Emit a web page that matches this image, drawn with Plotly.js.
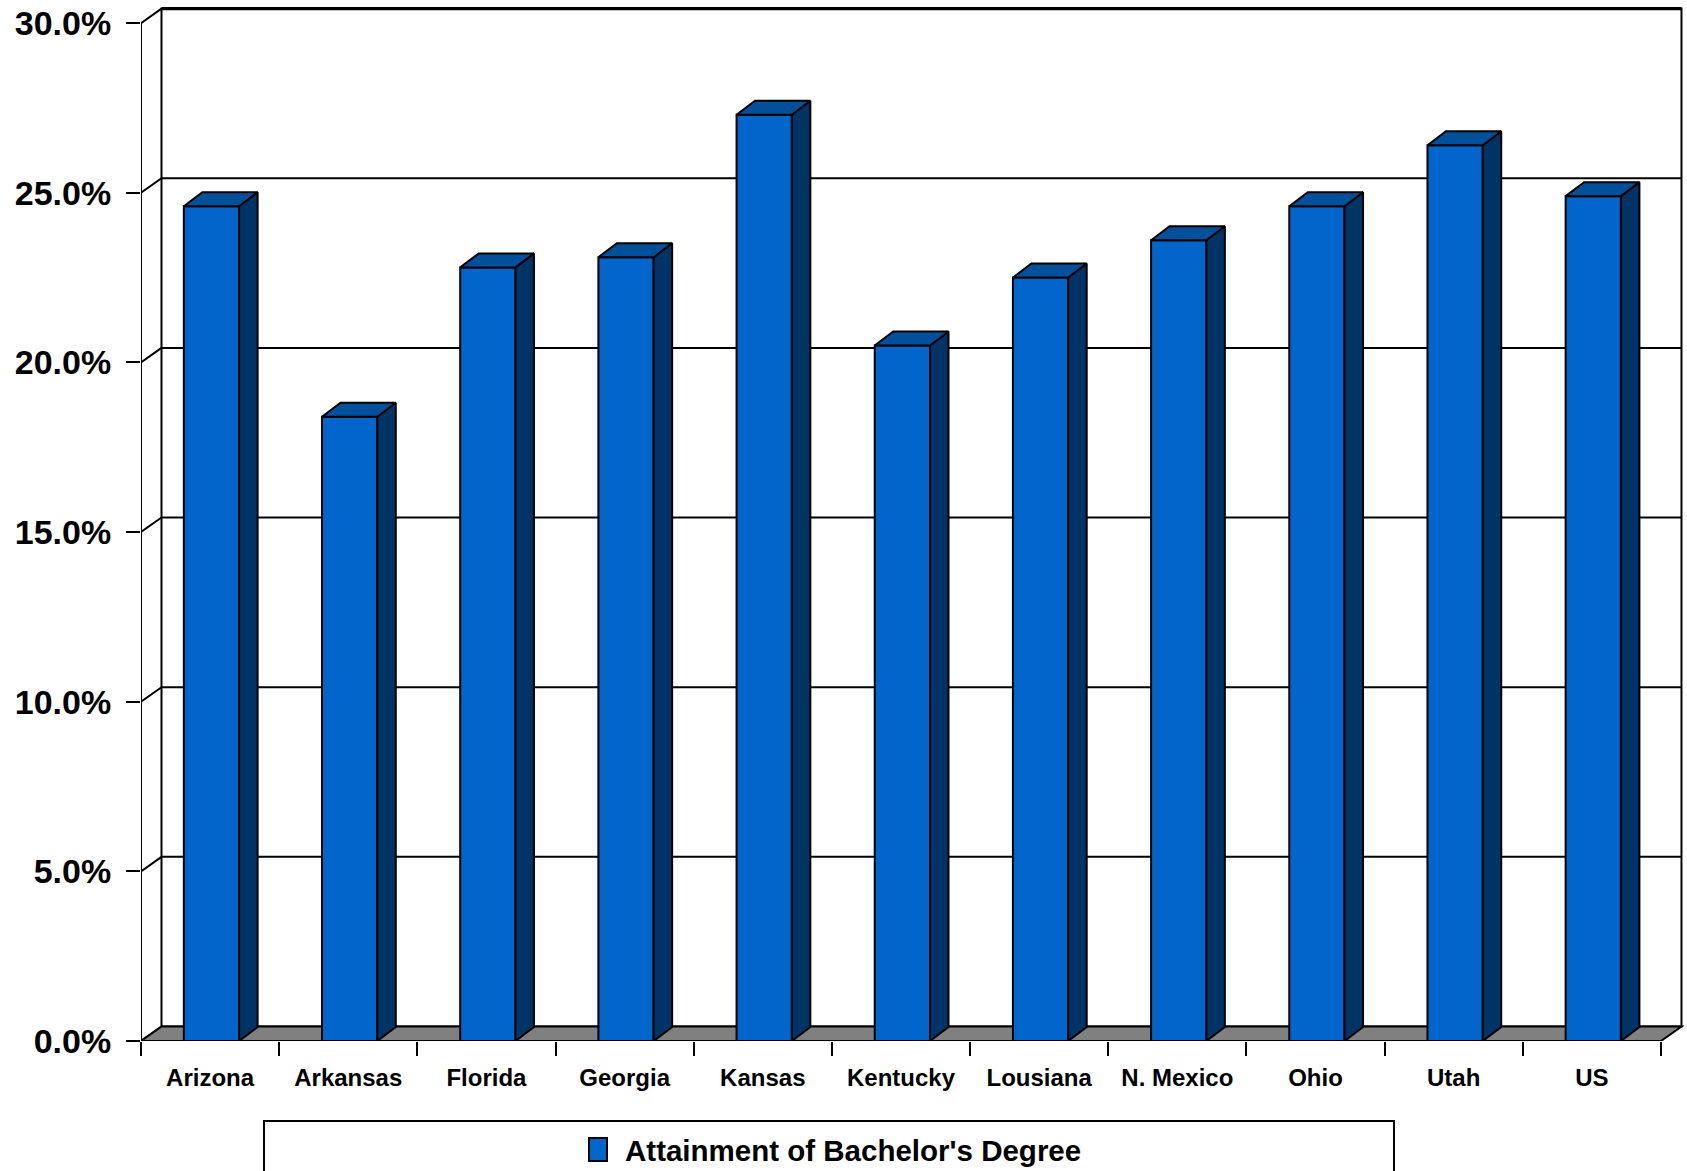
<!DOCTYPE html>
<html>
<head>
<meta charset="utf-8">
<script src="https://cdn.plot.ly/plotly-3.0.1.min.js"></script>
<style>
  html, body { margin: 0; padding: 0; background: #ffffff; }
  #chart { width: 1687px; height: 1171px; }
</style>
</head>
<body>
<div id="chart"></div>
<script>
// Share of adults holding a bachelor's degree, by state
const categories = ['Arizona', 'Arkansas', 'Florida', 'Georgia', 'Kansas', 'Kentucky',
                    'Lousiana', 'N. Mexico', 'Ohio', 'Utah', 'US'];
const bachelorShare = [0.246, 0.184, 0.228, 0.231, 0.273, 0.205, 0.225, 0.236, 0.246, 0.264, 0.249];
const seriesName = "Attainment of Bachelor's Degree";
const valueTicks = [0, 0.05, 0.10, 0.15, 0.20, 0.25, 0.30];

// ---- page geometry ----
const W = 1687, H = 1171;
const M = { l: 141, r: 3, t: 2, b: 130 };
const plotW = W - M.l - M.r;
const plotH = H - M.t - M.b;
const catPx = 138.18;              // pixels per category slot
const valPx = 3393;                // pixels per unit of value (100%)
const xMax = plotW / catPx;
const yMax = plotH / valPx;
const N = categories.length;
const vTop = valueTicks[valueTicks.length - 1];

// 3-D look: offsets of the back wall and of each column's depth, in data units
const wallDX = 20.5 / catPx, wallDY = 14.5 / valPx;
const barDX = 18.5 / catPx,  barDY = 14 / valPx;
const barW = 0.40;
const barShift = 0.01;

const FRONT = '#0066CC', TOP = '#00509B', SIDE = '#003366', FLOOR = '#808080';
const FONT = 'Liberation Sans, Arial, sans-serif';

const centers = categories.map((_, i) => i + 0.5 + barShift);

// ---- walls, floor and gridlines (drawn beneath the columns) ----
const shapes = [];
const ln = (x0, y0, x1, y1, w) => ({
  type: 'line', xref: 'x', yref: 'y', layer: 'below',
  x0, y0, x1, y1, line: { color: '#000', width: w || 2 }
});
// back wall
shapes.push({
  type: 'rect', xref: 'x', yref: 'y', layer: 'below',
  x0: wallDX, x1: N + wallDX, y0: wallDY, y1: vTop + wallDY,
  fillcolor: '#ffffff', line: { color: '#000', width: 2 }
});
// gridlines on the back wall and their returns on the left side wall
valueTicks.forEach(v => {
  if (v > 0 && v < vTop) shapes.push(ln(wallDX, v + wallDY, N + wallDX, v + wallDY, 2));
  shapes.push(ln(0, v, wallDX, v + wallDY, 2));
});
// heavier top edge of the back wall
shapes.push(ln(wallDX, vTop + wallDY, N + wallDX, vTop + wallDY, 3.2));
// floor
shapes.push({
  type: 'path', xref: 'x', yref: 'y', layer: 'below',
  path: `M0,0 L${N},0 L${N + wallDX},${wallDY} L${wallDX},${wallDY} Z`,
  fillcolor: FLOOR, line: { color: '#000', width: 2 }
});
// front value axis line
shapes.push(ln(0, 0, 0, vTop, 2));

// ---- legend (boxed, centred under the chart) ----
const pxX = px => (px - M.l) / plotW;
const pxY = py => (H - M.b - py) / plotH;
shapes.push({
  type: 'rect', xref: 'paper', yref: 'paper', layer: 'above',
  x0: pxX(264), x1: pxX(1394), y0: pxY(1190), y1: pxY(1121),
  fillcolor: 'rgba(0,0,0,0)', line: { color: '#000', width: 2 }
});
shapes.push({
  type: 'rect', xref: 'paper', yref: 'paper', layer: 'above',
  x0: pxX(589), x1: pxX(607), y0: pxY(1161), y1: pxY(1138),
  fillcolor: FRONT, line: { color: '#000', width: 2 }
});

// ---- column faces ----
const topX = [], topY = [], sideX = [], sideY = [];
bachelorShare.forEach((v, i) => {
  const xl = centers[i] - barW / 2, xr = centers[i] + barW / 2;
  topX.push(xl, xr, xr + barDX, xl + barDX, xl, null);
  topY.push(v, v, v + barDY, v + barDY, v, null);
  sideX.push(xr, xr + barDX, xr + barDX, xr, xr, null);
  sideY.push(0, barDY, v + barDY, v, 0, null);
});

const traces = [
  {
    type: 'bar', name: seriesName, x: centers, y: bachelorShare, width: barW,
    marker: { color: FRONT, line: { color: '#000', width: 2 } },
    customdata: categories, textposition: 'none',
    hovertemplate: '%{customdata}: %{y:.1%}<extra></extra>',
    showlegend: false
  },
  {
    type: 'scatter', mode: 'lines', x: sideX, y: sideY, fill: 'toself',
    fillcolor: SIDE, line: { color: '#000', width: 2 }, hoverinfo: 'skip', showlegend: false
  },
  {
    type: 'scatter', mode: 'lines', x: topX, y: topY, fill: 'toself',
    fillcolor: TOP, line: { color: '#000', width: 2 }, hoverinfo: 'skip', showlegend: false
  },
  // carries the category tick marks on the overlaid axis
  {
    type: 'scatter', mode: 'markers', x: [0], y: [0], xaxis: 'x2',
    marker: { opacity: 0 }, hoverinfo: 'skip', showlegend: false
  }
];

const layout = {
  width: W, height: H,
  margin: M,
  paper_bgcolor: '#ffffff', plot_bgcolor: 'rgba(0,0,0,0)',
  showlegend: false,
  bargap: 0,
  xaxis: {
    type: 'linear', range: [0, xMax], fixedrange: true,
    showgrid: false, zeroline: false, showline: false,
    tickmode: 'array', tickvals: centers.map(c => c - barShift), ticktext: categories,
    ticks: '', ticklabelstandoff: 20,
    tickfont: { family: FONT, size: 24, weight: 700, color: '#000' }
  },
  xaxis2: {
    type: 'linear', range: [0, xMax], overlaying: 'x', side: 'bottom', fixedrange: true,
    showgrid: false, zeroline: false, showline: false,
    tickmode: 'array', tickvals: categories.map((_, i) => i).concat([N]),
    ticks: 'outside', ticklen: 14, tickwidth: 2, tickcolor: '#000', showticklabels: false
  },
  yaxis: {
    range: [0, yMax], fixedrange: true,
    showgrid: false, zeroline: false, showline: false,
    tickmode: 'array', tickvals: valueTicks, tickformat: '.1%',
    ticks: 'outside', ticklen: 14, tickwidth: 2, tickcolor: '#000',
    ticklabelstandoff: 8,
    tickfont: { family: FONT, size: 34, weight: 700, color: '#000' }
  },
  shapes: shapes,
  annotations: [{
    xref: 'paper', yref: 'paper', x: pxX(623), y: pxY(1150),
    xanchor: 'left', yanchor: 'middle', showarrow: false,
    text: seriesName,
    font: { family: FONT, size: 29.5, weight: 700, color: '#000' }
  }]
};

Plotly.newPlot('chart', traces, layout, { displayModeBar: false, staticPlot: true });
</script>
</body>
</html>
